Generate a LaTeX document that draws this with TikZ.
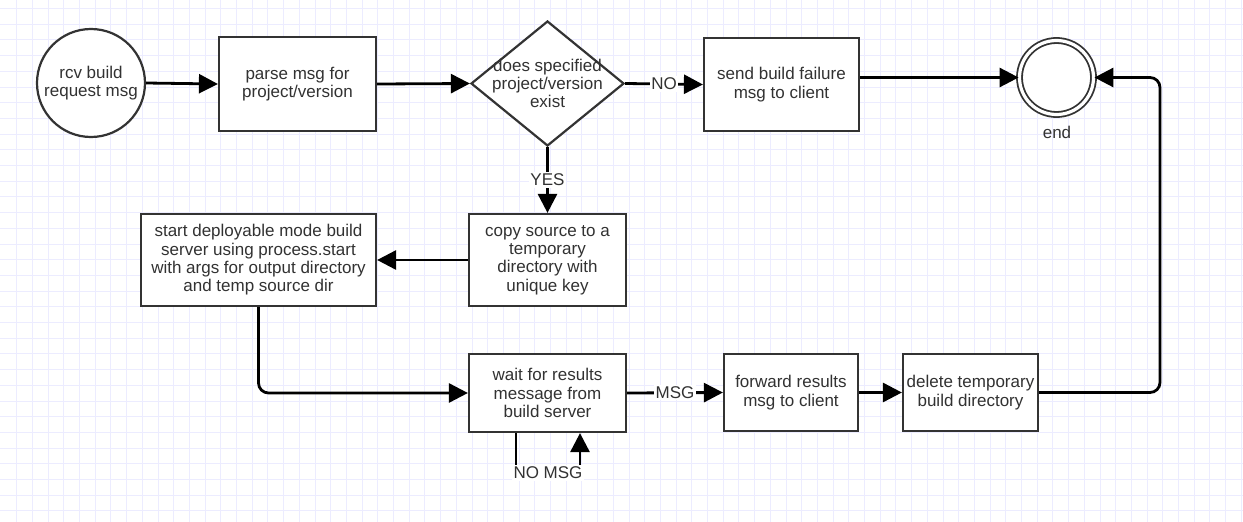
\documentclass[tikz,border=0pt]{standalone}
\usepackage{fontspec}
\setmainfont{Liberation Sans}
\usetikzlibrary{arrows.meta,shapes.geometric}
\definecolor{gridc}{RGB}{236,236,255}
\definecolor{boxc}{RGB}{51,51,51}
\definecolor{txtc}{RGB}{50,50,50}
\begin{document}
\begin{tikzpicture}[x=1pt,y=-1pt,
  every node/.style={font=\fontsize{17}{18.3}\selectfont, text=txtc},
  gridline/.style={gridc, line width=1pt},
  procbox/.style={draw=boxc, line width=2.2pt, fill=white, align=center, inner sep=2pt},
  txtnode/.style={align=center, inner sep=0pt},
  conn/.style={line width=2.8pt, black, -{Triangle[length=19pt,width=19pt]}},
  lbl/.style={fill=white, inner sep=1.5pt, text=txtc}]
\useasboundingbox (0,0) rectangle (1243,522);
\fill[white] (0,0) rectangle (1243,522);
\begin{scope}
\clip (0,0) rectangle (1243,522);
\foreach \i in {0,...,79} {
  \draw[gridline] ({16.7+15.7*\i},0) -- ({16.7+15.7*\i},522);
}
\foreach \i in {0,...,33} {
  \draw[gridline] (0,{8.5+15.7*\i}) -- (1243,{8.5+15.7*\i});
}
\end{scope}

% nodes
\node[circle, draw=boxc, line width=2.2pt, fill=white, minimum size=108pt, inner sep=0pt, align=center] (start) at (91,83) {rcv build\\request msg};
\node[procbox, minimum width=157pt, minimum height=94pt] (parse) at (297.5,84) {parse msg for\\project/version};
\node[diamond, draw=boxc, line width=2.2pt, fill=white, minimum width=153pt, minimum height=125pt, inner sep=0pt] (dec) at (547.5,83.5) {};
\node[txtnode] (dectxt) at (547.5,83.5) {does specified\\project/version\\exist};
\node[procbox, minimum width=155pt, minimum height=93pt] (fail) at (781.5,84.5) {send build failure\\msg to client};
\node[circle, draw=boxc, line width=1.8pt, double=white, double distance=3.2pt, fill=white, minimum size=74pt, inner sep=0pt] (end) at (1056.5,77.5) {};
\node[txtnode, anchor=center] (endlbl) at (1057,132) {end};

\node[procbox, minimum width=157pt, minimum height=92pt] (copy) at (547.5,260) {copy source to a\\temporary\\directory with\\unique key};
\node[procbox, minimum width=235pt, minimum height=92pt] (deploy) at (258.5,260) {start deployable mode build\\server using process.start\\with args for output directory\\and temp source dir};
\node[procbox, minimum width=157pt, minimum height=78pt] (wait) at (547.5,393) {wait for results\\message from\\build server};
\node[procbox, minimum width=134pt, minimum height=77pt] (fwd) at (791,392.5) {forward results\\msg to client};
\node[procbox, minimum width=135pt, minimum height=77pt] (del) at (970.5,392.5) {delete temporary\\build directory};

\coordinate (rt) at (1160,0);

% connectors
\draw[conn] (start.east) -- (parse.west);
\draw[conn] (parse.east) -- (dec.west);
\draw[conn] (dec.east) -- node[lbl, pos=0.5] {NO} (fail.west);
\draw[conn] (fail.east |- end.west) -- (end.west);
\draw[conn] (dec.south) -- node[lbl, pos=0.5] {YES} (copy.north);
\draw[conn] (copy.west) -- (deploy.east);
\draw[conn, rounded corners=10pt] (deploy.south) |- (wait.west);
\draw[conn] (wait.east) -- node[lbl, pos=0.5] {MSG} (fwd.west);
\draw[conn] (fwd.east) -- (del.west);
\draw[conn, rounded corners=10pt] (del.east) -| (rt |- end.east) -- (end.east);
\draw[conn] ([xshift=-31.5pt]wait.south) -- ++(0,40) -- node[lbl, pos=0.5, inner sep=2pt] {NO MSG} ++(64,0) -- ++(0,-40);
\end{tikzpicture}
\end{document}
